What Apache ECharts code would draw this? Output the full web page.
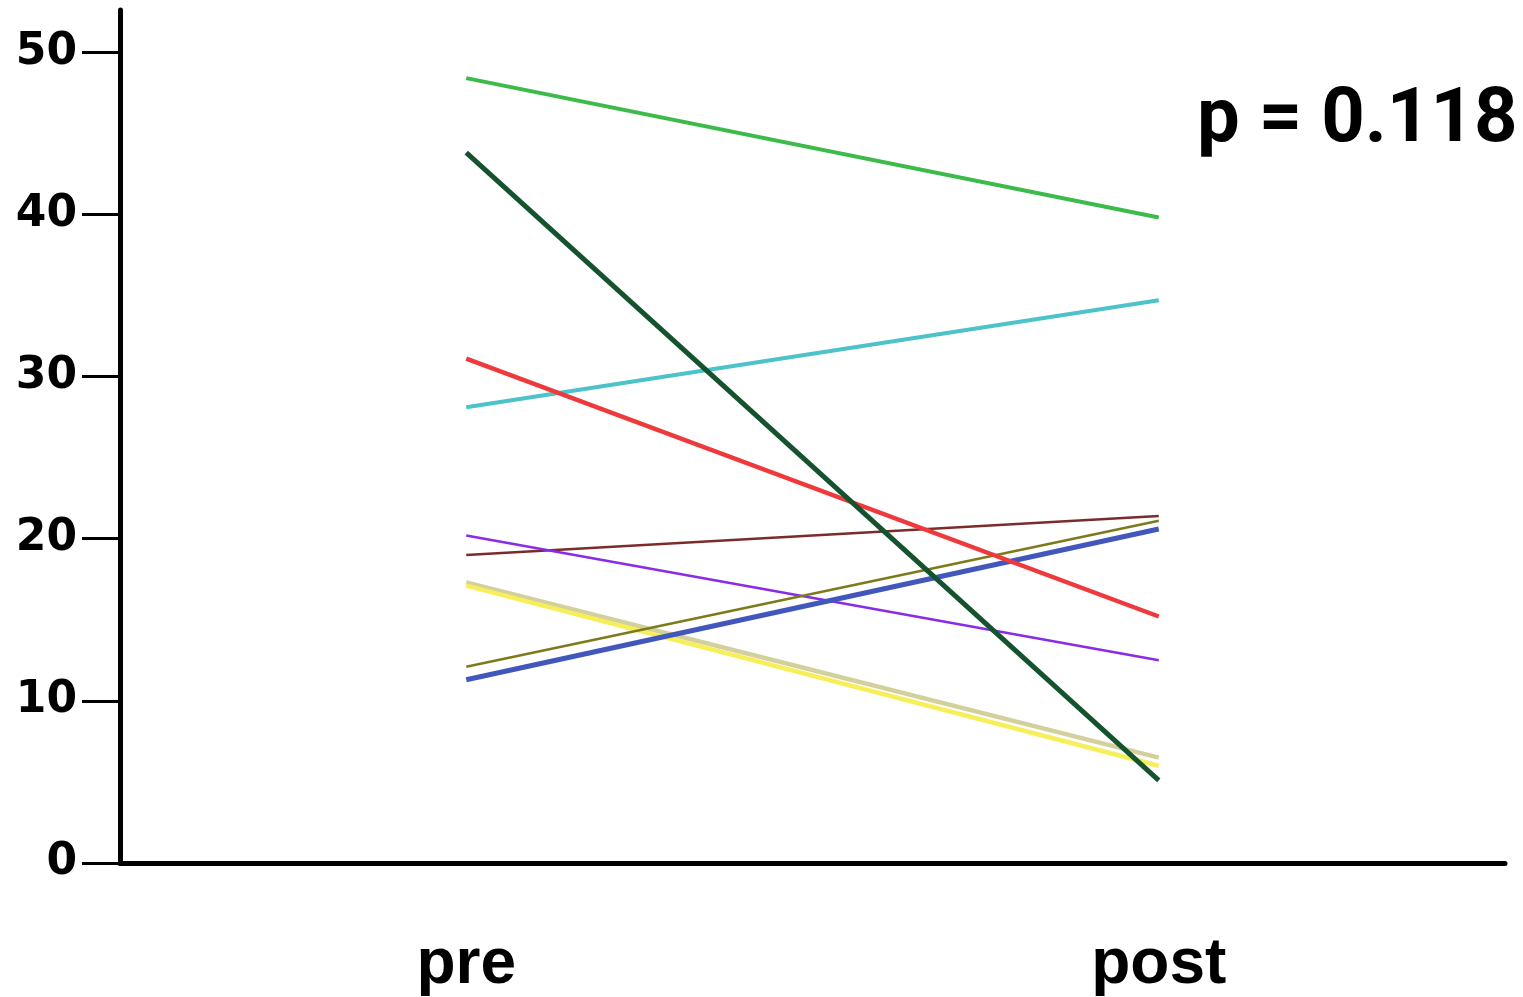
<!DOCTYPE html>
<html>
<head>
<meta charset="utf-8">
<script src="https://cdn.jsdelivr.net/npm/echarts@6/dist/echarts.min.js"></script>
<style>
  html, body { margin: 0; padding: 0; background: #fff; }
  #main { width: 1523px; height: 997px; }
</style>
</head>
<body>
<div id="main"></div>
<script>
// categories on the x axis
var phases = ['pre', 'post'];
var yTicks = [0, 10, 20, 30, 40, 50];
var pLabel = 'p = 0.118';

// one pair (pre, post) per subject
var tanVals = [17.3, 6.5];
var yellowVals = [17.1, 6.0];
var brownVals = [19.0, 21.4];
var purpleVals = [20.2, 12.5];
var oliveVals = [12.1, 21.1];
var blueVals = [11.3, 20.6];
var cyanVals = [28.1, 34.7];
var redVals = [31.1, 15.2];
var greenVals = [48.4, 39.8];
var darkGreenVals = [43.8, 5.1];

var subjects = [
    {data: tanVals, color: '#d4d09c', width: 4.5},
    {data: yellowVals, color: '#f6ef5a', width: 4.5},
    {data: brownVals, color: '#7b2b2b', width: 2.5},
    {data: purpleVals, color: '#8a2be6', width: 2.5},
    {data: oliveVals, color: '#7d7a1c', width: 2.5},
    {data: blueVals, color: '#4257bb', width: 5},
    {data: cyanVals, color: '#4cc3c9', width: 4},
    {data: redVals, color: '#ef3a3d', width: 4.5},
    {data: greenVals, color: '#3dbb4a', width: 4},
    {data: darkGreenVals, color: '#15532f', width: 5}
];

var series = subjects.map(function (s) {
    return {
        type: 'line',
        data: s.data,
        symbol: 'none',
        silent: true,
        lineStyle: {color: s.color, width: s.width},
        z: 3
    };
});

var option = {
    backgroundColor: '#fff',
    animation: false,
    grid: {left: 120, right: 18, top: 10, bottom: 134, outerBoundsMode: 'none', containLabel: false},
    xAxis: {
        type: 'category',
        data: phases,
        boundaryGap: true,
        axisLine: {lineStyle: {color: '#000', width: 5}},
        axisTick: {show: false},
        axisLabel: {
            color: '#000',
            fontFamily: 'Liberation Sans',
            fontWeight: 'bold',
            fontSize: 64,
            margin: 70
        }
    },
    yAxis: {
        type: 'value',
        min: 0,
        max: 52.6,
        splitLine: {show: false},
        axisLine: {show: true, lineStyle: {color: '#000', width: 5}},
        axisTick: {
            show: true,
            length: 38,
            customValues: yTicks,
            lineStyle: {color: '#000', width: 3}
        },
        axisLabel: {
            customValues: yTicks,
            color: '#000',
            fontFamily: 'DejaVu Sans',
            fontWeight: 'bold',
            fontSize: 44,
            margin: 43
        }
    },
    graphic: [{
        type: 'text',
        left: 1197,
        top: 84,
        style: {
            text: pLabel,
            fill: '#000',
            font: 'bold 76px Roboto'
        }
    }],
    series: series
};

var myChart = echarts.init(document.getElementById('main'));
myChart.setOption(option);
</script>
</body>
</html>
